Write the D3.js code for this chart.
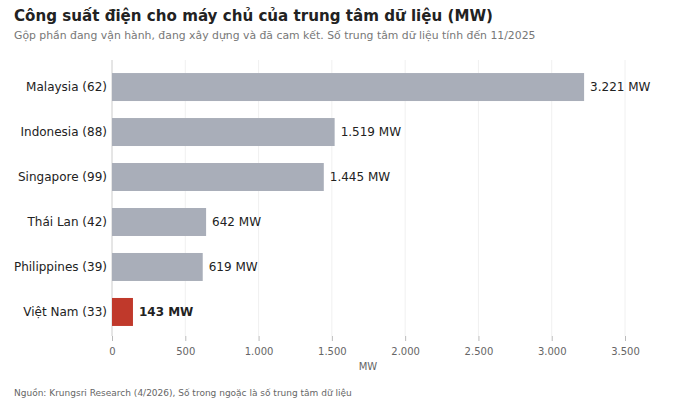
<!DOCTYPE html>
<html><head><meta charset="utf-8">
<script src="https://cdn.jsdelivr.net/npm/d3@7"></script>
<style>body{margin:0;background:#fff;font-family:"DejaVu Sans",sans-serif;}</style>
</head><body>
<svg id="chart" width="700" height="404"></svg>
<script>
var quocGia = ["Malaysia (62)", "Indonesia (88)", "Singapore (99)", "Thái Lan (42)", "Philippines (39)", "Việt Nam (33)"];
var congSuat = [3221, 1519, 1445, 642, 619, 143];
var nhanGiaTri = ["3.221 MW", "1.519 MW", "1.445 MW", "642 MW", "619 MW", "143 MW"];
var mocTruc = [0, 500, 1000, 1500, 2000, 2500, 3000, 3500];

var svg = d3.select("#chart");
var x = d3.scaleLinear().domain([0, 3500]).range([112, 625]);
var y = d3.scaleBand().domain(quocGia).range([64.5, 334.5]).paddingInner(0.378).paddingOuter(0.19);

svg.append("text").attr("x", 14).attr("y", 21).style("font-size", "15.1px").style("font-weight", "bold")
    .style("fill", "#222").text("Công suất điện cho máy chủ của trung tâm dữ liệu (MW)");
svg.append("text").attr("x", 14).attr("y", 39).style("font-size", "10.85px").style("fill", "#777")
    .text("Gộp phần đang vận hành, đang xây dựng và đã cam kết. Số trung tâm dữ liệu tính đến 11/2025");

// luoi doc
svg.selectAll(".luoi").data(mocTruc).enter().append("line")
    .attr("x1", function(d) { return x(d); }).attr("x2", function(d) { return x(d); })
    .attr("y1", 60).attr("y2", 336)
    .attr("stroke", function(d) { return d === 0 ? "#ccc" : "#f0f0f0"; }).attr("stroke-width", 1);

var truc = svg.append("g").attr("transform", "translate(0,336)")
    .call(d3.axisBottom(x).tickValues(mocTruc).tickSize(5).tickFormat(function(d) { return d3.format(",")(d).replace(/,/g, "."); }));
truc.select(".domain").remove();
truc.selectAll("line").attr("stroke", "#bbb");
truc.selectAll("text").style("font-size", "10px").style("fill", "#666").style("font-family", "DejaVu Sans").attr("dy", "1.1em");

svg.append("text").attr("x", 368).attr("y", 370).attr("text-anchor", "middle")
    .style("font-size", "10px").style("fill", "#666").text("MW");

svg.selectAll(".thanh").data(congSuat).enter().append("rect")
    .attr("x", x(0)).attr("y", function(d, i) { return y(quocGia[i]); })
    .attr("width", function(d) { return x(d) - x(0); }).attr("height", y.bandwidth())
    .attr("fill", function(d, i) { return i === 5 ? "#c0392b" : "#a9aeb9"; });

svg.selectAll(".nhan").data(congSuat).enter().append("text")
    .attr("x", function(d) { return x(d) + 6; })
    .attr("y", function(d, i) { return y(quocGia[i]) + y.bandwidth() / 2; })
    .attr("dy", "0.35em").style("font-size", "12px").style("fill", "#222")
    .style("font-weight", function(d, i) { return i === 5 ? "bold" : "normal"; })
    .text(function(d, i) { return nhanGiaTri[i]; });

svg.selectAll(".ten").data(quocGia).enter().append("text")
    .attr("x", 107).attr("y", function(d) { return y(d) + y.bandwidth() / 2; })
    .attr("dy", "0.35em").attr("text-anchor", "end").style("font-size", "12px").style("fill", "#222")
    .text(function(d) { return d; });

svg.append("text").attr("x", 14).attr("y", 396).style("font-size", "9px").style("fill", "#666")
    .text("Nguồn: Krungsri Research (4/2026), Số trong ngoặc là số trung tâm dữ liệu");
</script>
</body></html>
